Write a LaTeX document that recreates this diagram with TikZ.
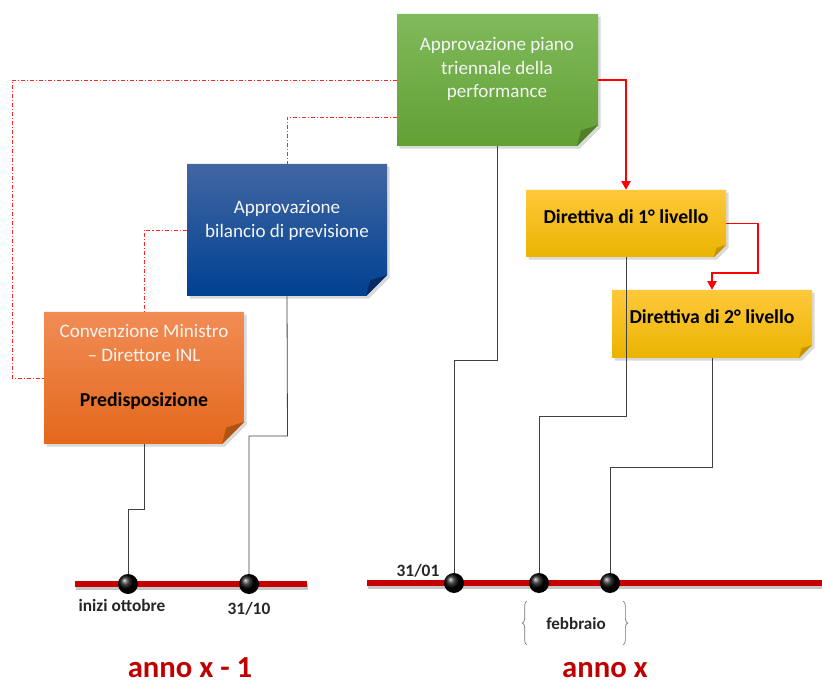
\documentclass[tikz,border=0pt]{standalone}
\usepackage{fontspec}
\setmainfont{Carlito}
\usetikzlibrary{shadows,arrows.meta,fit,decorations.pathreplacing}
\definecolor{gtop}{RGB}{128,186,92}
\definecolor{gbot}{RGB}{98,160,52}
\definecolor{gfold}{RGB}{80,128,40}
\definecolor{btop}{RGB}{66,102,162}
\definecolor{bbot}{RGB}{0,65,145}
\definecolor{bfold}{RGB}{8,42,98}
\definecolor{otop}{RGB}{241,140,85}
\definecolor{obot}{RGB}{228,104,28}
\definecolor{ofold}{RGB}{176,84,20}
\definecolor{ytop}{RGB}{255,200,60}
\definecolor{ybot}{RGB}{234,180,0}
\definecolor{yfold}{RGB}{196,148,0}
\definecolor{tlred}{RGB}{196,0,0}
\definecolor{yearred}{RGB}{192,0,0}
\tikzset{
 conn/.style={draw=black!75, line width=0.6pt},
 redarr/.style={draw=red, line width=1.1pt, -{Triangle[width=7pt,length=6.5pt]}},
 dashlink/.style={draw=red!85, line width=0.55pt, dash pattern=on 3pt off 1.5pt on 0.8pt off 1.5pt},
 boxtxt/.style={text=white!96!black, font=\fontsize{14.3}{17}\selectfont, anchor=base, inner sep=0},
 boldtxt/.style={text=black, font=\fontsize{14.8}{17}\selectfont\bfseries, anchor=base, inner sep=0},
 lbl/.style={font=\fontsize{13}{15}\selectfont\bfseries, anchor=base, inner sep=0, text=black!85},
 yeartxt/.style={font=\fontsize{23}{27}\selectfont\bfseries, text=yearred, anchor=base, inner sep=0},
 dot/.style={circle, minimum size=15pt, inner sep=0, ball color=black},
 tl/.style={line width=4.5pt, draw=tlred},
 tlshadow/.style={line width=4.5pt, draw=black!22},
}
\newcommand\notebox[9]{%
 \path[top color=#6, bottom color=#7, drop shadow={shadow xshift=2pt,shadow yshift=-2pt,opacity=0.3}]
   (#2,#3) -- (#4,#3) -- (#4,{#5-#9}) -- ({#4-#9},#5) -- (#2,#5) -- cycle;
 \fill[#8] (#4,{#5-#9}) -- ({#4-#9},#5) -- ({#4-0.8*#9},{#5-0.75*#9}) -- cycle;
 \node[fit={(#2,#3)(#4,#5)}, inner sep=0] (#1) {};
}
\begin{document}
\begin{tikzpicture}[x=0.75pt,y=-0.75pt]
\useasboundingbox (0,0) rectangle (822,684);
% boxes
\notebox{g}{397}{14}{598}{146}{gtop}{gbot}{gfold}{21}
\notebox{b}{187}{164}{387}{296}{btop}{bbot}{bfold}{21}
\notebox{o}{44}{312}{244}{444}{otop}{obot}{ofold}{22}
\notebox{ya}{526}{190}{726}{257}{ytop}{ybot}{yfold}{12}
\notebox{yb}{612}{290}{812}{358}{ytop}{ybot}{yfold}{13}
% box texts
\node[boxtxt] (g1) at (497,51) {Approvazione piano};
\node[boxtxt] (g2) at (497,75) {triennale della};
\node[boxtxt] (g3) at (497,98) {performance};
\node[boxtxt] (b1) at (287,214) {Approvazione};
\node[boxtxt] (b2) at (287,238) {bilancio di previsione};
\node[boxtxt] (o1) at (144,338) {Convenzione Ministro};
\node[boxtxt] (o2) at (144,362) {– Direttore INL};
\node[boldtxt] (o3) at (144,407) {Predisposizione};
\node[boldtxt] (ya1) at (626,224) {Direttiva di 1° livello};
\node[boldtxt] (yb1) at (712,324) {Direttiva di 2° livello};
% dash-dot links
\draw[dashlink] (g.west) -| (12,378) -- (o.west);
\draw[dashlink] (397,117) -| (b.north);
\draw[dashlink] (b.west) -| (o.north);
% red arrows
\draw[redarr] (g.east) -| (ya.north);
\draw[redarr] (ya.east) -| (758,273) -| (yb.north);
% timelines
\draw[tlshadow] (76,586.5) -- (308,586.5);
\draw[tl] (75,584) -- (307,584);
\draw[tlshadow] (368,585.5) -- (822,585.5);
\draw[tl] (367,583) -- (822,583);
% dot positions
\coordinate (p1) at (128,584);
\coordinate (p2) at (249,584);
\coordinate (p3) at (454,583);
\coordinate (p4) at (539,583);
\coordinate (p5) at (610,583);
% connectors
\draw[conn] (o.south) -- (144,509) -| (p1);
\draw[conn] (b.south) -- (287.5,436) -| (p2);
\draw[conn] (g.south) -- (497.5,360) -| (p3);
\draw[conn] (ya.south) -- (626,416) -| (p4);
\draw[conn] (yb.south) -- (712,467) -| (p5);
% dots
\node[dot] (d1) at (p1) {};
\node[dot] (d2) at (p2) {};
\node[dot] (d3) at (p3) {};
\node[dot] (d4) at (p4) {};
\node[dot] (d5) at (p5) {};
% labels
\node[lbl] (l1) at (122,611) {inizi ottobre};
\node[lbl] (l2) at (249,614) {31/10};
\node[lbl] (l3) at (418,576) {31/01};
\node[lbl, font=\fontsize{12.8}{15}\selectfont\bfseries] (l4) at (576,629) {febbraio};
\draw[black!55, line width=0.5pt, decorate, decoration={brace, amplitude=3.5pt}] (527,645) -- (527,601);
\draw[black!55, line width=0.5pt, decorate, decoration={brace, amplitude=3.5pt}] (623,601) -- (623,645);
\node[yeartxt] (y1) at (190,677) {anno x - 1};
\node[yeartxt] (y2) at (605,677) {anno x};
\end{tikzpicture}
\end{document}
